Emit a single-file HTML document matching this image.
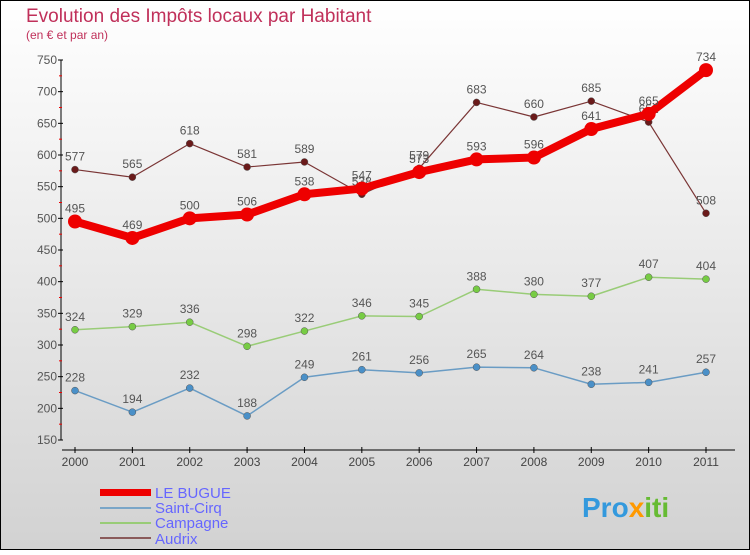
<!DOCTYPE html>
<html><head><meta charset="utf-8"><style>
body{margin:0}
#c{width:750px;height:550px;position:relative;font-family:"Liberation Sans",sans-serif}
</style></head><body>
<div id="c">
<svg id="s" width="750" height="550" xmlns="http://www.w3.org/2000/svg">
<defs><linearGradient id="bg" x1="0" y1="0" x2="0" y2="1"><stop offset="0" stop-color="#ffffff"/><stop offset="1" stop-color="#d2d2d2"/></linearGradient></defs>
<rect x="0.5" y="0.5" width="749" height="549" fill="url(#bg)" stroke="#000"/>
<text x="26" y="22" font-size="19" fill="#c0305a">Evolution des Impôts locaux par Habitant</text>
<text x="26" y="39" font-size="12" fill="#c0305a">(en € et par an)</text>
<g id="axes"></g><g id="plot"></g>
<g>
<rect x="100" y="489" width="51" height="7" fill="#ee0000"/>
<text x="155" y="498" font-size="15" fill="#6666ff">LE BUGUE</text>
<rect x="100" y="507" width="51" height="2" fill="#7aa6c8"/>
<text x="155" y="513" font-size="15" fill="#6666ff">Saint-Cirq</text>
<rect x="100" y="522" width="51" height="2" fill="#99cc77"/>
<text x="155" y="528" font-size="15" fill="#6666ff">Campagne</text>
<rect x="100" y="537" width="51" height="2" fill="#8a5a5a"/>
<text x="155" y="544" font-size="15" fill="#6666ff">Audrix</text>
</g>
<text x="582" y="517" font-size="28" font-weight="bold" fill="#3399dd">Pro<tspan fill="#ff9900">x</tspan><tspan fill="#66bb33">iti</tspan></text>
</svg>
</div>
<script>
const years=[2000,2001,2002,2003,2004,2005,2006,2007,2008,2009,2010,2011];
const yTicks=[150,200,250,300,350,400,450,500,550,600,650,700,750];
const leBugue=[495,469,500,506,538,547,573,593,596,641,665,734];
const saintCirq=[228,194,232,188,249,261,256,265,264,238,241,257];
const campagne=[324,329,336,298,322,346,345,388,380,377,407,404];
const audrix=[577,565,618,581,589,538,579,683,660,685,652,508];
const NS="http://www.w3.org/2000/svg";
const X=i=>75+i*(706-75)/11;
const Y=v=>440-(v-150)*380/600;
function mk(t,a,p){const e=document.createElementNS(NS,t);for(const k in a)e.setAttribute(k,a[k]);p.appendChild(e);return e;}
const ax=document.getElementById('axes'),pl=document.getElementById('plot');
let e=mk('line',{x1:61,y1:60,x2:61,y2:440,stroke:'#000'},ax);


yTicks.forEach((v,i)=>{
 mk('line',{x1:58,y1:Y(v),x2:63,y2:Y(v),stroke:'#000'},ax);
 if(i<yTicks.length-1)mk('line',{x1:59,y1:Y(v+25),x2:62,y2:Y(v+25),stroke:'#e00'},ax);
 const t=mk('text',{x:57,y:Y(v)+4,'font-size':12,fill:'#555','text-anchor':'end'},ax);t.textContent=v;
 
 
});
e=mk('line',{x1:62,y1:450,x2:735,y2:450,stroke:'#000'},ax);


years.forEach((y,i)=>{
 mk('line',{x1:X(i),y1:447,x2:X(i),y2:453,stroke:'#000'},ax);
 const t=mk('text',{x:X(i),y:466,'font-size':12,fill:'#444','text-anchor':'middle'},ax);t.textContent=y;
 
 
});
function series(d,name,col,w,r,fill){
 const g=mk('g',{},pl);
 
 
 const p=mk('polyline',{points:d.map((v,i)=>X(i)+','+Y(v)).join(' '),fill:'none',stroke:col,'stroke-width':w,'stroke-linejoin':'round'},g);
 
 
 d.forEach((v,i)=>{
  const c=mk('circle',{cx:X(i),cy:Y(v),r:r,fill:fill,stroke:w>3?'none':'#555','stroke-width':0.5},g);
  
  
  const t=mk('text',{x:X(i),y:Y(v)-9,'font-size':12,fill:'#555','text-anchor':'middle'},g);t.textContent=v;
  
  
 });
}
series(saintCirq,'saint-cirq','#6a9cc4',1.5,3.5,'#4a90c8');
series(campagne,'campagne','#99cc77',1.5,3.5,'#77cc44');
series(audrix,'audrix','#7a3535',1.2,3.5,'#6a1a1a');
series(leBugue,'le-bugue','#ee0000',8,7,'#ee0000');
</script>
</body></html>
